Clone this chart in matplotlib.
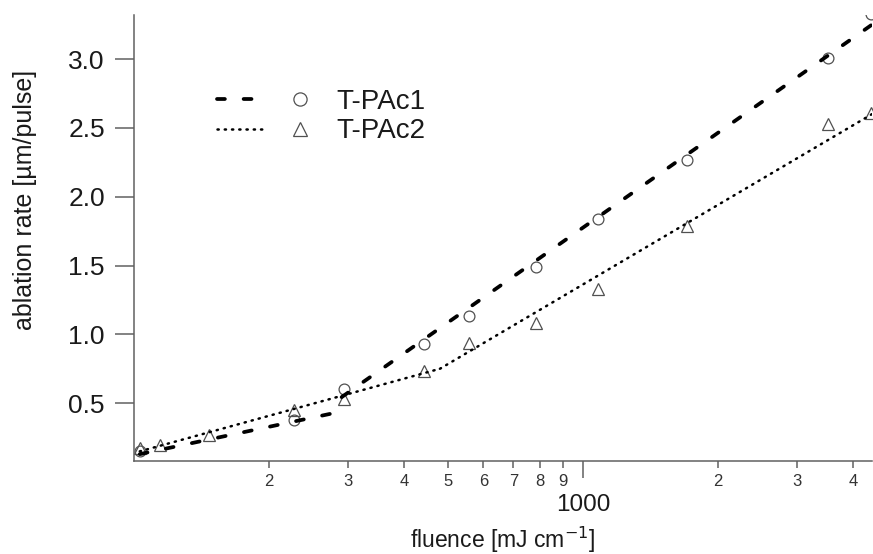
import matplotlib
matplotlib.use("Agg")
import matplotlib.pyplot as plt
from matplotlib.lines import Line2D
from matplotlib.legend_handler import HandlerTuple
from matplotlib.ticker import FixedLocator, FixedFormatter

plt.rcParams['font.family'] = ['Liberation Sans', 'DejaVu Sans']

# measured points (fluence in mJ/cm2, ablation rate in um/pulse)
fluence1 = [103, 227, 294, 442, 557, 787, 1077, 1704, 3505, 4380]
rate1 = [0.15, 0.375, 0.604, 0.932, 1.134, 1.49, 1.836, 2.267, 3.007, 3.33]
fluence2 = [103, 114, 147, 227, 294, 442, 557, 787, 1077, 1704, 3505, 4380]
rate2 = [0.171, 0.193, 0.27, 0.451, 0.528, 0.731, 0.937, 1.079, 1.333, 1.787, 2.529, 2.607]

# fitted lines (two regimes each)
fit1_low_x, fit1_low_y = [103, 290], [0.13, 0.44]
fit1_high_x, fit1_high_y = [290, 4400], [0.544, 3.25]
fit2_low_x, fit2_low_y = [103, 480], [0.15, 0.75]
fit2_high_x, fit2_high_y = [480, 4400], [0.75, 2.60]

minor_ticks = [200, 300, 400, 500, 600, 700, 800, 900, 2000, 3000, 4000]
minor_labels = ["2", "3", "4", "5", "6", "7", "8", "9", "2", "3", "4"]

fig = plt.figure(figsize=(8.73, 5.54), dpi=100)
ax = fig.add_axes([134/873, 1-461/554, (872-134)/873, (461-15)/554])

spine_col = "#606060"
mk_col = "#505050"
txt_col = "#1a1a1a"

dash_kw = dict(color="black", lw=2.7, dashes=(2.1, 5.0), dash_capstyle="round")
dot_kw = dict(color="black", lw=1.8, dashes=(0.5, 2.4), dash_capstyle="round")

ax.plot(fit1_low_x, fit1_low_y, **dash_kw)
ax.plot(fit1_high_x, fit1_high_y, **dash_kw)
ax.plot(fit2_low_x, fit2_low_y, **dot_kw)
ax.plot(fit2_high_x, fit2_high_y, **dot_kw)

ax.plot(fluence1, rate1, ls="none", marker="o", ms=7.8, mfc="white", mec=mk_col, mew=0.9, zorder=1)
ax.plot(fluence2, rate2, ls="none", marker="^", ms=8.5, mfc="none", mec=mk_col, mew=0.9, zorder=1)

ax.set_xscale("log")
ax.set_xlim(100, 4400)
ax.set_ylim(0.08, 3.32)

ax.xaxis.set_major_locator(FixedLocator([1000]))
ax.xaxis.set_major_formatter(FixedFormatter(["1000"]))
ax.xaxis.set_minor_locator(FixedLocator(minor_ticks))
ax.xaxis.set_minor_formatter(FixedFormatter(minor_labels))
ax.set_yticks([0.5, 1.0, 1.5, 2.0, 2.5, 3.0])
ax.set_yticklabels(["0.5", "1.0", "1.5", "2.0", "2.5", "3.0"])

for s in ["top", "right"]:
    ax.spines[s].set_visible(False)
for s in ["left", "bottom"]:
    ax.spines[s].set_color(spine_col)
    ax.spines[s].set_linewidth(1.1)

ax.tick_params(axis="y", length=14, width=1.1, color=spine_col, labelsize=19, pad=7, labelcolor=txt_col)
ax.tick_params(axis="x", which="major", length=12, width=1.1, color=spine_col, labelsize=17.5, pad=12, labelcolor=txt_col)
ax.tick_params(axis="x", which="minor", length=5, width=1.1, color=spine_col, labelsize=12, pad=4, labelcolor="#333333")

ax.set_xlabel("fluence [mJ cm$^{-1}$]", fontsize=16.5, color=txt_col, va="center")
ax.xaxis.set_label_coords(0.5, -0.177)
ax.set_ylabel("ablation rate [µm/pulse]", fontsize=18, color=txt_col, va="center")
ax.yaxis.set_label_coords(-0.148, 0.585)

h1 = (Line2D([], [], **dash_kw),
      Line2D([], [], ls="none", marker="o", ms=9.5, mfc="white", mec=mk_col, mew=0.9))
h2 = (Line2D([], [], **dot_kw),
      Line2D([], [], ls="none", marker="^", ms=9.5, mfc="none", mec=mk_col, mew=0.9))
ax.legend([h1, h2], ["T-PAc1", "T-PAc2"], handler_map={tuple: HandlerTuple(ndivide=None, pad=0.4)},
          loc="upper left", bbox_to_anchor=(217/873, 1-89/554), bbox_transform=fig.transFigure,
          frameon=False, fontsize=20, borderpad=0, borderaxespad=0,
          handlelength=3.85, handletextpad=0.45, labelspacing=0.12, labelcolor=txt_col)

fig.savefig("out.png", dpi=100)
